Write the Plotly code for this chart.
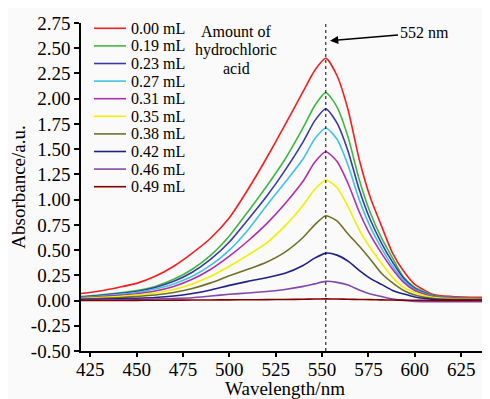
import plotly.graph_objects as go

wavelength = [420, 430, 440, 450, 460, 470, 480, 490, 500, 510, 520, 530, 540, 546,
              552, 558, 564, 570, 576, 582, 588, 594, 600, 610, 620, 630, 640]

a_000 = [0.07, 0.095, 0.13, 0.17, 0.24, 0.34, 0.47, 0.62, 0.82, 1.10, 1.41, 1.74, 2.08, 2.28,
         2.40, 2.23, 1.89, 1.40, 1.02, 0.74, 0.47, 0.29, 0.16, 0.06, 0.04, 0.033, 0.03]
a_019 = [0.04, 0.055, 0.075, 0.10, 0.14, 0.21, 0.31, 0.45, 0.64, 0.88, 1.13, 1.40, 1.72, 1.93,
         2.06, 1.92, 1.62, 1.20, 0.87, 0.62, 0.42, 0.23, 0.13, 0.05, 0.03, 0.022, 0.02]
a_023 = [0.035, 0.05, 0.068, 0.09, 0.13, 0.19, 0.28, 0.41, 0.58, 0.80, 1.03, 1.29, 1.58, 1.78,
         1.90, 1.76, 1.48, 1.10, 0.80, 0.57, 0.38, 0.22, 0.12, 0.045, 0.025, 0.018, 0.015]
a_027 = [0.03, 0.043, 0.06, 0.08, 0.115, 0.165, 0.24, 0.35, 0.50, 0.70, 0.94, 1.17, 1.41, 1.60,
         1.71, 1.60, 1.34, 1.00, 0.73, 0.52, 0.34, 0.20, 0.11, 0.04, 0.022, 0.016, 0.013]
a_031 = [0.025, 0.037, 0.05, 0.068, 0.095, 0.14, 0.21, 0.31, 0.44, 0.59, 0.76, 0.96, 1.19, 1.37,
         1.475, 1.38, 1.16, 0.88, 0.65, 0.47, 0.31, 0.18, 0.10, 0.035, 0.02, 0.014, 0.012]
a_035 = [0.02, 0.03, 0.04, 0.055, 0.075, 0.11, 0.165, 0.24, 0.34, 0.45, 0.57, 0.74, 0.95, 1.10,
         1.195, 1.12, 0.93, 0.70, 0.52, 0.37, 0.23, 0.13, 0.08, 0.03, 0.017, 0.012, 0.01]
a_038 = [0.015, 0.02, 0.028, 0.04, 0.055, 0.08, 0.12, 0.175, 0.245, 0.31, 0.38, 0.48, 0.63, 0.75,
         0.84, 0.79, 0.66, 0.54, 0.41, 0.27, 0.175, 0.10, 0.055, 0.02, 0.012, 0.01, 0.008]
a_042 = [0.01, 0.012, 0.016, 0.022, 0.03, 0.045, 0.07, 0.105, 0.15, 0.19, 0.225, 0.27, 0.35, 0.42,
         0.47, 0.45, 0.39, 0.30, 0.22, 0.16, 0.10, 0.065, 0.035, 0.012, 0.006, 0.004, 0.003]
a_046 = [0.003, 0.005, 0.008, 0.011, 0.015, 0.02, 0.028, 0.045, 0.062, 0.075, 0.09, 0.11, 0.14, 0.165,
         0.19, 0.18, 0.155, 0.105, 0.065, 0.04, 0.015, 0.0, -0.008, -0.012, -0.012, -0.012, -0.012]
a_049 = [0.0, 0.0, 0.0, 0.002, 0.003, 0.004, 0.005, 0.006, 0.007, 0.008, 0.009, 0.011, 0.013, 0.015,
         0.016, 0.015, 0.013, 0.011, 0.009, 0.007, 0.005, 0.004, 0.003, 0.002, 0.002, 0.002, 0.002]

series = [a_000, a_019, a_023, a_027, a_031, a_035, a_038, a_042, a_046, a_049]
names = ["0.00 mL", "0.19 mL", "0.23 mL", "0.27 mL", "0.31 mL",
         "0.35 mL", "0.38 mL", "0.42 mL", "0.46 mL", "0.49 mL"]
colors = ["#f02020", "#40b840", "#3a3aa8", "#40c4e0", "#b030a8",
          "#f0f000", "#707028", "#202088", "#8048a8", "#800000"]

x_ticks = [425, 450, 475, 500, 525, 550, 575, 600, 625]
y_ticks = [-0.5, -0.25, 0, 0.25, 0.5, 0.75, 1.0, 1.25, 1.5, 1.75, 2.0, 2.25, 2.5, 2.75]
y_ticktext = ["-0.50", "-0.25", "0.00", "0.25", "0.50", "0.75", "1.00", "1.25",
              "1.50", "1.75", "2.00", "2.25", "2.50", "2.75"]
peak_nm = 552

# the page body has an 8px margin, so the figure is drawn 8px right and down
OFF = 8
W, H = 482, 391
ML, MR, MT, MB = 81 - OFF, 1, 23 - OFF, 48
FONT = "Liberation Serif, DejaVu Serif, serif"

fig = go.Figure()
for ys, nm, c in zip(series, names, colors):
    fig.add_trace(go.Scatter(x=wavelength, y=ys, name=nm, mode="lines",
                             line=dict(color=c, width=1.6, shape="spline", smoothing=0.6),
                             showlegend=False))

fig.add_shape(type="line", xref="x", yref="paper", x0=peak_nm, x1=peak_nm, y0=0, y1=1,
              line=dict(color="black", width=1, dash="dot"))

pw = W - ML - MR
ph = H - MT - MB

def px_to_paper(px, py):
    return (px - OFF - ML) / pw, 1 - (py - OFF - MT) / ph

for i, (nm, c) in enumerate(zip(names, colors)):
    yy = 28.3 + 17.6 * i
    x0p, y0p = px_to_paper(94, yy)
    x1p, _ = px_to_paper(126, yy)
    fig.add_shape(type="line", xref="paper", yref="paper", x0=x0p, x1=x1p, y0=y0p, y1=y0p,
                  line=dict(color=c, width=1.6))
    tx, _ = px_to_paper(129, yy)
    fig.add_annotation(xref="paper", yref="paper", x=tx, y=y0p, text=nm, showarrow=False,
                       xanchor="left", yanchor="middle",
                       font=dict(family=FONT, size=16, color="black"))

for txt, yy in [("Amount of", 31.7), ("hydrochloric", 50), ("acid", 68.3)]:
    ax_, ay_ = px_to_paper(236, yy)
    fig.add_annotation(xref="paper", yref="paper", x=ax_, y=ay_, text=txt, showarrow=False,
                       xanchor="center", yanchor="middle",
                       font=dict(family=FONT, size=16, color="black"))

hx, hy = px_to_paper(330, 40.7)
fig.add_annotation(xref="paper", yref="paper", x=hx, y=hy, text="552 nm",
                   showarrow=True, arrowhead=2, arrowsize=1.1, arrowwidth=1.5,
                   arrowcolor="black", ax=94, ay=-8, axref="pixel", ayref="pixel",
                   font=dict(family=FONT, size=16, color="black"))

fig.update_layout(
    width=W, height=H,
    margin=dict(l=ML, r=MR, t=MT, b=MB, autoexpand=False),
    paper_bgcolor="#fafafa", plot_bgcolor="#fafafa",
    font=dict(family=FONT, size=19, color="black"),
    showlegend=False,
)
fig.update_xaxes(range=[420, 640], tickvals=x_ticks, showgrid=False, zeroline=False,
                 showline=True, linecolor="black", linewidth=1.5,
                 ticks="outside", ticklen=4, tickwidth=1.5, tickcolor="black",
                 ticklabelstandoff=-4,
                 tickfont=dict(family=FONT, size=19),
                 title=dict(text="Wavelength/nm", font=dict(family=FONT, size=19), standoff=0))
fig.update_yaxes(range=[-0.5, 2.75], tickvals=y_ticks, ticktext=y_ticktext,
                 showgrid=False, zeroline=False,
                 showline=True, linecolor="black", linewidth=1.5,
                 ticks="outside", ticklen=5, tickwidth=1.5, tickcolor="black",
                 tickfont=dict(family=FONT, size=19),
                 title=dict(text="Absorbance/a.u.", font=dict(family=FONT, size=19), standoff=2))

fig.write_html("out.html")
